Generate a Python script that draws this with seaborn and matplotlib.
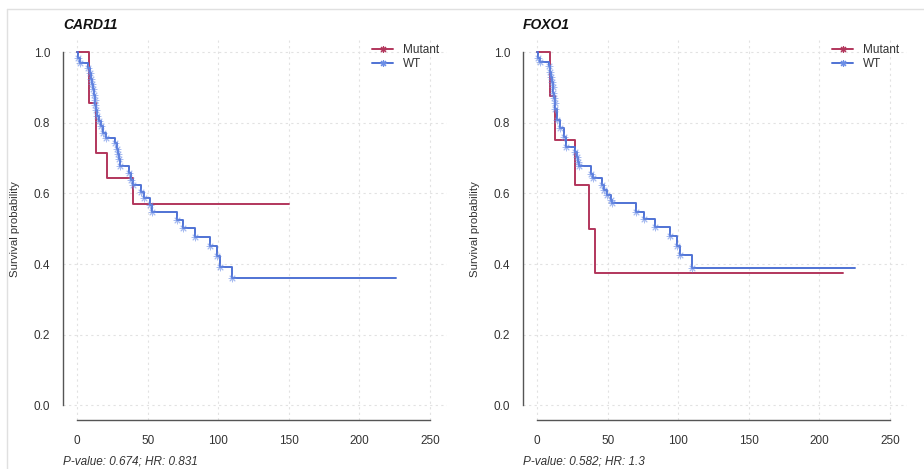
import numpy as np
import pandas as pd
import matplotlib
matplotlib.use("Agg")
import matplotlib.pyplot as plt
import seaborn as sns
from matplotlib.lines import Line2D
from matplotlib.ticker import FormatStrFormatter

# ---------------- data ----------------
genes = ["CARD11", "FOXO1"]
stats_text = ["P-value: 0.674; HR: 0.831", "P-value: 0.582; HR: 1.3"]
group_labels = ["Mutant", "WT"]

card11_mut_t = [0, 8.6, 13.2, 21.5, 39.4, 150]
card11_mut_s = [1.0, 0.857, 0.714, 0.643, 0.571, 0.571]

card11_wt_t = [0, 0.9, 2.1, 8, 9, 10, 10.5, 11, 12, 12.5, 13, 13.5, 14, 15.5, 17, 18.5,
               20.5, 27, 28, 29, 29.5, 30.5, 37, 38.5, 39.5, 45, 47.5, 51.5, 53,
               70.6, 75.3, 83.6, 94.2, 98.9, 101.3, 109.5, 225.7]
card11_wt_s = [1.0, 0.982, 0.97, 0.955, 0.94, 0.925, 0.91, 0.895, 0.88, 0.865, 0.85, 0.835,
               0.82, 0.805, 0.79, 0.772, 0.757, 0.742, 0.727, 0.712, 0.697, 0.678, 0.657,
               0.638, 0.624, 0.605, 0.587, 0.568, 0.547, 0.525, 0.502, 0.478, 0.45, 0.422,
               0.392, 0.36, 0.36]

foxo1_mut_t = [0, 8.9, 12.5, 27.1, 37, 40.8, 216.4]
foxo1_mut_s = [1.0, 0.875, 0.75, 0.625, 0.5, 0.375, 0.375]

foxo1_wt_t = [0, 0.9, 2.1, 8.2, 9, 10, 10.5, 11, 11.5, 12, 12.5, 13, 13.9, 16.5, 19.3,
              20.8, 27.1, 28, 29, 30, 38.5, 39.5, 46, 47.7, 49.6, 52, 53, 70.3, 75.5,
              83.8, 94.4, 99.1, 101.5, 109.8, 225.4]
foxo1_wt_s = [1.0, 0.982, 0.973, 0.96, 0.945, 0.93, 0.915, 0.9, 0.885, 0.87, 0.855, 0.84,
              0.808, 0.784, 0.761, 0.732, 0.718, 0.704, 0.69, 0.677, 0.656, 0.643, 0.624,
              0.61, 0.596, 0.582, 0.572, 0.548, 0.527, 0.505, 0.479, 0.452, 0.426, 0.389,
              0.389]

x_ticks = [0, 50, 100, 150, 200, 250]
y_ticks = [0.0, 0.2, 0.4, 0.6, 0.8, 1.0]

panels = [
    (card11_mut_t, card11_mut_s, card11_wt_t, card11_wt_s),
    (foxo1_mut_t, foxo1_mut_s, foxo1_wt_t, foxo1_wt_s),
]

# ---------------- style ----------------
sns.set_style("white")
plt.rcParams["font.family"] = ["Liberation Sans", "DejaVu Sans"]

RED = "#b2365c"
BLUE = "#4f72d4"
MARK = "#6c8ee6"
GRID = "#e2e2e2"
AXC = "#555555"
TXT = "#333333"
ASTER = (8, 2, 0)

W, H = 924, 469
fig = plt.figure(figsize=(W / 100, H / 100), dpi=100)
fig.patch.set_facecolor("white")

ax_w = 384 / W
ax_h = (420 - 38) / H
ax_b = 1 - 420 / H
lefts = [63 / W, 523 / W]

for i, (mt, ms, wt, ws) in enumerate(panels):
    ax = fig.add_axes([lefts[i], ax_b, ax_w, ax_h])
    ax.set_xlim(-10, 262)
    ax.set_ylim(-0.0415, 1.04)

    # grid
    for xv in x_ticks:
        ax.axvline(xv, color=GRID, lw=0.8, ls=(0, (2, 3)), zorder=0)
    for yv in y_ticks:
        ax.axhline(yv, color=GRID, lw=0.8, ls=(0, (2, 3)), zorder=0)

    df_m = pd.DataFrame({"time": mt, "surv": ms})
    df_w = pd.DataFrame({"time": wt, "surv": ws})

    sns.lineplot(data=df_w, x="time", y="surv", ax=ax, color=BLUE, lw=1.4,
                 drawstyle="steps-post", estimator=None, zorder=3)
    sns.lineplot(data=df_m, x="time", y="surv", ax=ax, color=RED, lw=1.4,
                 drawstyle="steps-post", estimator=None, zorder=2)
    cens = df_w.iloc[1:-1]
    sns.scatterplot(data=cens, x="time", y="surv", ax=ax, marker=ASTER, s=24,
                    color=MARK, linewidth=0.7, alpha=0.6, zorder=4, legend=False)

    # axes styling
    for sp in ["top", "right"]:
        ax.spines[sp].set_visible(False)
    ax.spines["left"].set_bounds(0, 1)
    ax.spines["bottom"].set_bounds(0, 250)
    for sp in ["left", "bottom"]:
        ax.spines[sp].set_color(AXC)
        ax.spines[sp].set_linewidth(1.0)
    ax.set_xticks(x_ticks)
    ax.set_yticks(y_ticks)
    ax.yaxis.set_major_formatter(FormatStrFormatter("%.1f"))
    ax.tick_params(axis="both", which="both", direction="out", length=5,
                   width=1.0, color=AXC, labelcolor=TXT, labelsize=8.5)
    ax.tick_params(axis="x", pad=5.5)
    ax.tick_params(axis="y", pad=4.3)
    ax.set_xlabel("")
    ax.set_ylabel("Survival probability", fontsize=8.2, color=TXT)
    ax.yaxis.set_label_coords(-43 / 384, 0.5)

    ax.text(0, 1 + (38 - 25) / 382, genes[i], transform=ax.transAxes,
            fontsize=10, fontweight="bold", fontstyle="italic", color="#111111",
            ha="left", va="center")
    ax.text(0, -(461.7 - 420) / 382, stats_text[i], transform=ax.transAxes,
            fontsize=8.5, fontstyle="italic", color=TXT, ha="left", va="center")

    handles = [
        Line2D([0], [0], color=RED, lw=1.4, marker=ASTER, markersize=5,
               markeredgewidth=0.8, markeredgecolor=RED),
        Line2D([0], [0], color=BLUE, lw=1.4, marker=ASTER, markersize=5,
               markeredgewidth=0.8, markeredgecolor=MARK),
    ]
    leg = ax.legend(handles, group_labels, loc="upper left",
                    bbox_to_anchor=((372 - 63) / 384, 0.985), frameon=False,
                    fontsize=8.5, handlelength=1.8, handletextpad=0.8,
                    labelspacing=0.2, borderpad=0, borderaxespad=0)
    for t in leg.get_texts():
        t.set_color(TXT)

# light frame lines at top and left (as in the screenshot)
fig.add_artist(Line2D([7 / W, 1], [1 - 9 / H, 1 - 9 / H], transform=fig.transFigure,
                      color="#e0e0e0", lw=1))
fig.add_artist(Line2D([7 / W, 7 / W], [0, 1 - 9 / H], transform=fig.transFigure,
                      color="#e0e0e0", lw=1))

fig.savefig("out.png", dpi=100, facecolor="white")
